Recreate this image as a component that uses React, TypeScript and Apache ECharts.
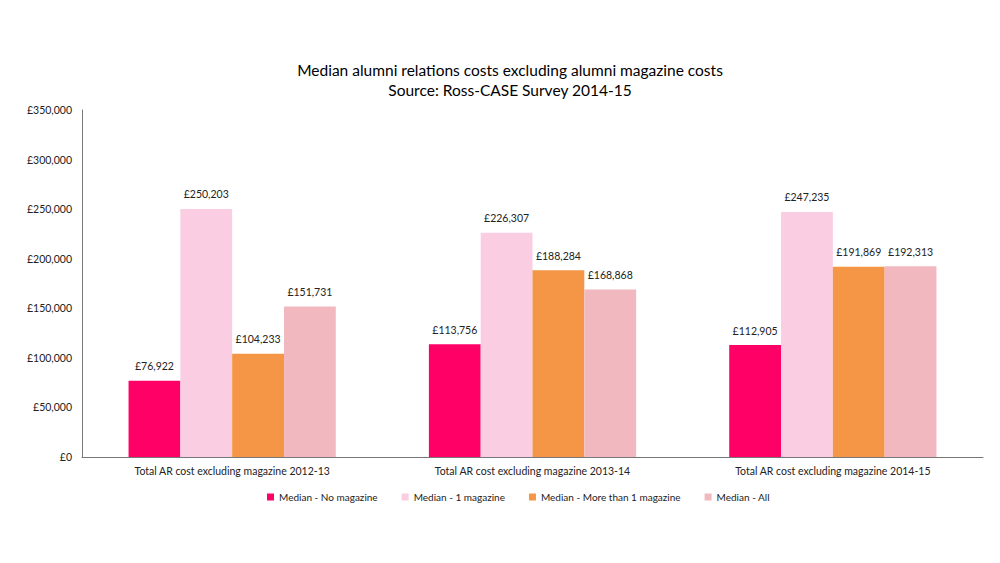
import React, { useEffect, useRef } from "react";
import * as echarts from "echarts";

const categories = [
  "Total AR cost excluding magazine 2012-13",
  "Total AR cost excluding magazine 2013-14",
  "Total AR cost excluding magazine 2014-15",
];
const seriesNames = [
  "Median - No magazine",
  "Median - 1 magazine",
  "Median - More than 1 magazine",
  "Median - All",
];
const noMagazine = [76922, 113756, 112905];
const oneMagazine = [250203, 226307, 247235];
const moreThanOne = [104233, 188284, 191869];
const allMedian = [151731, 168868, 192313];
const colors = ["#FF0066", "#FACDE3", "#F59646", "#F1B8C0"];

const fmt = (v: number) => "£" + v.toLocaleString("en-GB");
const FONT = "Lato, 'Open Sans', sans-serif";

export default function App() {
  const ref = useRef<HTMLDivElement>(null);
  useEffect(() => {
    if (!ref.current) return;
    const chart = echarts.init(ref.current, undefined, { renderer: "svg" });
    const data = [noMagazine, oneMagazine, moreThanOne, allMedian];
    chart.setOption({
      animation: false,
      backgroundColor: "#ffffff",
      textStyle: { fontFamily: FONT },
      title: {
        text: "Median alumni relations costs excluding alumni magazine costs\nSource: Ross-CASE Survey 2014-15",
        left: 505,
        textAlign: "center",
        top: 55,
        textStyle: {
          fontFamily: FONT,
          fontSize: 15.5,
          fontWeight: "normal",
          color: "#000",
          lineHeight: 20,
        },
      },
      legend: {
        top: 487,
        left: 262,
        itemWidth: 7,
        itemHeight: 7,
        itemGap: 24,
        icon: "rect",
        textStyle: { fontFamily: FONT, fontSize: 10, color: "#222" },
        data: seriesNames,
      },
      grid: { left: 82, right: 17, top: 110, bottom: 106, containLabel: false },
      xAxis: {
        type: "category",
        data: categories,
        axisLine: { lineStyle: { color: "#777", width: 1 } },
        axisTick: { show: false },
        axisLabel: { fontFamily: FONT, fontSize: 10.5, color: "#222", margin: 8 },
      },
      yAxis: {
        type: "value",
        min: 0,
        max: 350000,
        interval: 50000,
        axisLine: { show: true, lineStyle: { color: "#777", width: 1 } },
        axisTick: { show: false },
        splitLine: { show: false },
        axisLabel: {
          fontFamily: FONT,
          fontSize: 10.5,
          color: "#222",
          margin: 10,
          formatter: (v: number) => fmt(v),
        },
      },
      series: seriesNames.map((name, i) => ({
        name,
        type: "bar",
        data: data[i],
        barGap: "0%",
        barCategoryGap: "31%",
        itemStyle: { color: colors[i] },
        label: {
          show: true,
          position: "top",
          distance: 9,
          fontFamily: FONT,
          fontSize: 10.5,
          color: "#222",
          formatter: (p: any) => fmt(p.value),
        },
      })),
    });
    return () => chart.dispose();
  }, []);
  return (
    <div
      ref={ref}
      style={{ position: "fixed", left: 0, top: 0, width: 1000, height: 563, background: "#fff" }}
    />
  );
}
